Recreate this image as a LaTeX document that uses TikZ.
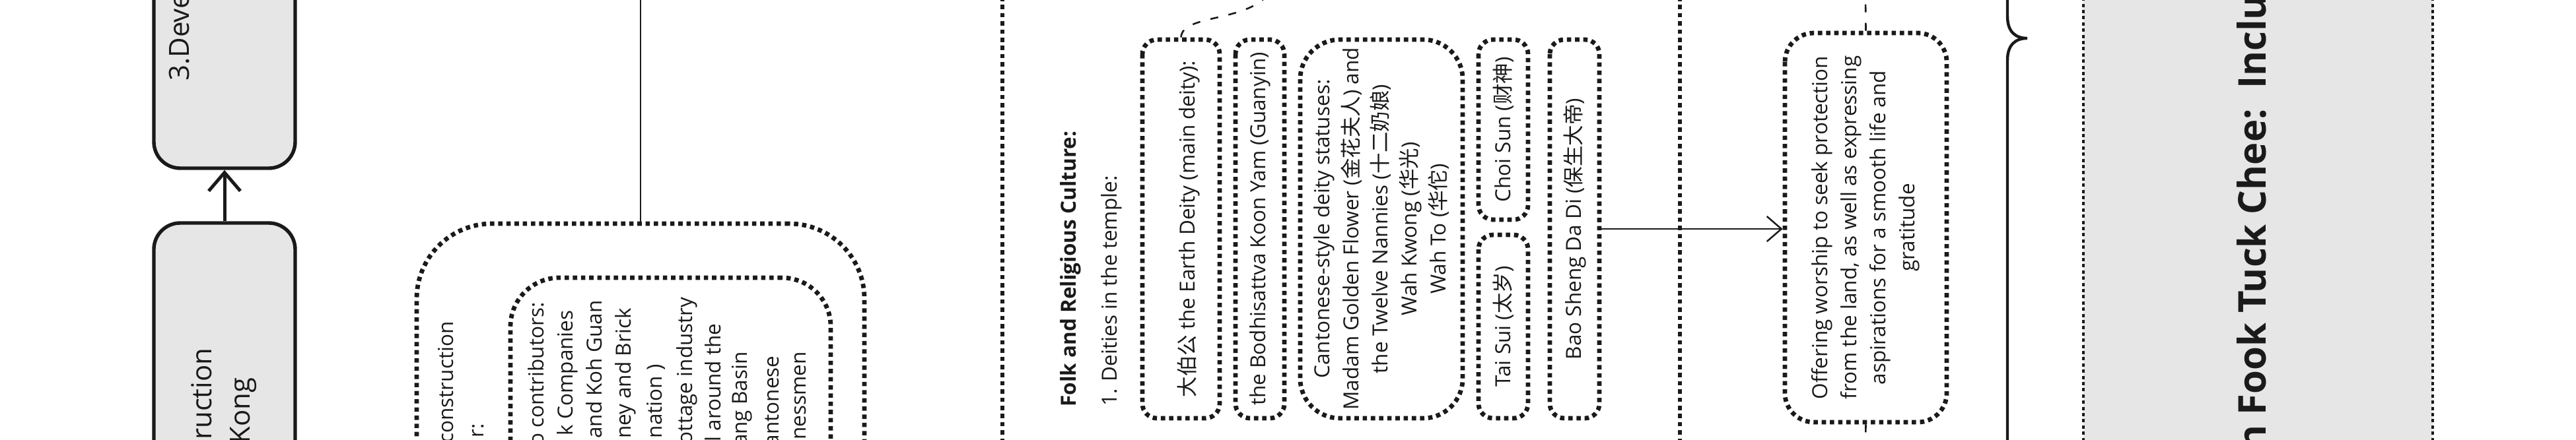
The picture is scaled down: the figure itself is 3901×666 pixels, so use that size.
\documentclass[tikz,border=0pt]{standalone}
\usepackage{fontspec}
\setmainfont{Open Sans}
\newfontfamily\cjk{Noto Sans CJK SC}
\usetikzlibrary{arrows.meta}
\definecolor{ink}{HTML}{1A1A1A}
\definecolor{boxgray}{HTML}{E6E6E6}
\newcommand{\normtxt}{\fontsize{15.75}{22}\selectfont}
\newcommand{\bigtxt}{\fontsize{21}{29}\selectfont}
\newcommand{\headtxt}{\fontsize{29}{36}\selectfont\bfseries}

\begin{document}
\begin{tikzpicture}[
    x=0.5pt, y=-0.5pt,
    stage/.style={draw=ink, fill=boxgray, line width=2.7pt, rounded corners=20pt,
      minimum width=107pt, inner sep=0pt},
    dotline/.style={draw=ink, line width=3.4pt, dash pattern=on 3.3pt off 2.9pt},
    dotbox/.style={dotline, rounded corners=11pt, rotate=90, inner sep=0pt,
      align=center, text=ink, font=\normtxt},
    note/.style={rotate=90, inner sep=0pt, text=ink, font=\normtxt},
    bignote/.style={note, font=\bigtxt},
    link/.style={draw=ink, line width=1.4pt},
    dashlink/.style={draw=ink, line width=1.3pt, dash pattern=on 6pt off 8pt},
    curl/.style={draw=ink, line width=2.2pt}]
  \useasboundingbox (0,0) rectangle (3901,666);
  \clip (0,0) rectangle (3901,666);
  % timeline
  \node[stage, minimum height=277.5pt] (develop) at (340,-22.5) {};
  \node[stage, minimum height=281pt]   (build)   at (340,619) {};
  \node[bignote, anchor=mid west] (developtxt) at (281,123) {3.Development};
  \node[bignote, anchor=mid east] (buildtxt1)  at (315,527) {Construction};
  \node[bignote, anchor=mid east] (buildtxt2)  at (373,572) {Hong Kong};
  \draw[link, line width=2.5pt, -{Straight Barb[length=14pt, width=24pt]}]
    (build) -- (develop);
  % funding
  \node[dotline, rounded corners=57pt, minimum width=339pt, minimum height=305.5pt,
    inner sep=0pt] (fund) at (970,644.5) {};
  \node[dotline, rounded corners=37pt, minimum width=242.5pt, minimum height=254.5pt,
    inner sep=0pt] (donor) at (1015.5,675.5) {};
  \coordinate (fundtop) at (970,-5);
  \draw[link] (fund.north) -- (fundtop);
  \foreach \lx/\ly/\lt [count=\i] in {681/487/construction, 727/642/r:}
    \node[note, anchor=mid east] (fundtxt\i) at (\lx,\ly) {\lt};
  \foreach \lx/\ly/\lt [count=\i] in {818/458/o contributors:, 862/470/k Companies,
      906/455/and Koh Guan, 950/467/ney and Brick, 997/552/nation ),
      1043/450/ottage industry, 1086/490/l around the, 1126/533/ang Basin,
      1174/539/antonese, 1215/533/nessmen}
    \node[note, anchor=mid east] (donortxt\i) at (\lx,\ly) {\lt};
  % separators
  \draw[dotline] (1518,-5) -- (1518,675);
  \draw[dotline] (2544,-5) -- (2544,675);
  % deities
  \node[note, font=\normtxt\bfseries, anchor=mid west] (folk) at (1624,617)
    {Folk and Religious Culture:};
  \node[note, anchor=mid west] (deities) at (1686,616) {1. Deities in the temple:};
  \node[dotbox, minimum width=287pt, minimum height=58.5pt, text height=21.4pt,
    text depth=0pt] (dabogong) at (1788.5,347) {{\cjk 大伯公} the Earth Deity (main deity):};
  \node[dotbox, minimum width=287pt, minimum height=37pt] (guanyin) at (1908,347)
    {the Bodhisattva Koon Yam (Guanyin)};
  \node[dotbox, rounded corners=30pt, minimum width=287pt, minimum height=123pt]
    (canton) at (2092,347) {Cantonese-style deity statuses:\\
      Madam Golden Flower ({\cjk 金花夫人}) and\\
      the Twelve Nannies ({\cjk 十二奶娘})\\
      Wah Kwong ({\cjk 华光})\\
      Wah To ({\cjk 华佗})};
  \node[dotbox, minimum width=136.5pt, minimum height=37.5pt] (choisun) at (2276.5,196.5)
    {Choi Sun ({\cjk 财神})};
  \node[dotbox, minimum width=139pt, minimum height=37.5pt] (taisui) at (2276.5,495)
    {Tai Sui ({\cjk 太岁})};
  \node[dotbox, minimum width=287pt, minimum height=37.5pt] (baosheng) at (2384.5,347)
    {Bao Sheng Da Di ({\cjk 保生大帝})};
  \coordinate (earthtop) at (1925,-15);
  \draw[dashlink] (dabogong.east) .. controls (1790,20) and (1895,35) .. (earthtop);
  % meaning
  \node[dotbox, rounded corners=22pt, minimum width=295pt, minimum height=122.5pt]
    (offering) at (2825.5,345) {Offering worship to seek protection\\
      from the land, as well as expressing\\
      aspirations for a smooth life and\\
      gratitude};
  \draw[link, line width=1.25pt, -{Straight Barb[length=11pt, width=19pt]}]
    (baosheng.south) -- (offering.north |- baosheng.south);
  \coordinate (offertop) at (2825,-5);
  \coordinate (offerbot) at (2825,675);
  \draw[dashlink] (offering.east) -- (offertop);
  \draw[dashlink] (offering.west) -- (offerbot);
  % brace and summary
  \draw[curl] (3040,-10) -- (3040,25) .. controls (3040,48) and (3052,58) .. (3070,58)
    .. controls (3052,58) and (3040,68) .. (3040,91) -- (3040,680);
  \node[fill=boxgray, draw=ink, line width=2.2pt, dash pattern=on 2.5pt off 2.2pt,
    minimum width=264.5pt, minimum height=380pt, inner sep=0pt] (summary) at (3419.5,333) {};
  \node[note, font=\headtxt, anchor=mid west] (summarytxt) at (3426,683)
    {n Fook Tuck Chee:~~Including};
\end{tikzpicture}
\end{document}
